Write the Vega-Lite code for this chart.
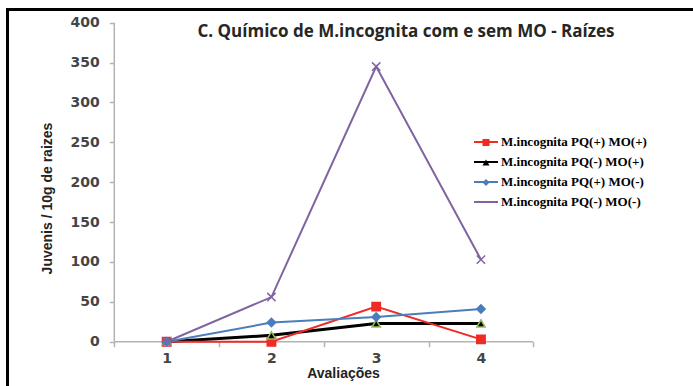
{
  "$schema": "https://vega.github.io/schema/vega-lite/v6.json",
  "width": 686,
  "height": 377,
  "autosize": {"type": "none"},
  "padding": {"left": 7, "top": 9, "right": 0, "bottom": 0},
  "background": "white",
  "title": {
    "text": "C. Químico de M.incognita com e sem MO - Raízes",
    "font": "Open Sans",
    "fontSize": 17,
    "fontWeight": "bold",
    "color": "#262626",
    "anchor": "middle",
    "frame": "group",
    "orient": "top",
    "offset": 0,
    "baseline": "alphabetic",
    "dx": 56,
    "dy": 45
  },
  "config": {"view": {"stroke": null}, "axis": {"grid": false}},
  "data": {
    "values": [
      {"aval": 1, "serie": "M.incognita PQ(+) MO(+)", "juvenis": 0},
      {"aval": 2, "serie": "M.incognita PQ(+) MO(+)", "juvenis": 0},
      {"aval": 3, "serie": "M.incognita PQ(+) MO(+)", "juvenis": 44},
      {"aval": 4, "serie": "M.incognita PQ(+) MO(+)", "juvenis": 3},
      {"aval": 1, "serie": "M.incognita PQ(-) MO(+)", "juvenis": 0},
      {"aval": 2, "serie": "M.incognita PQ(-) MO(+)", "juvenis": 8},
      {"aval": 3, "serie": "M.incognita PQ(-) MO(+)", "juvenis": 23},
      {"aval": 4, "serie": "M.incognita PQ(-) MO(+)", "juvenis": 23},
      {"aval": 1, "serie": "M.incognita PQ(+) MO(-)", "juvenis": 0},
      {"aval": 2, "serie": "M.incognita PQ(+) MO(-)", "juvenis": 24},
      {"aval": 3, "serie": "M.incognita PQ(+) MO(-)", "juvenis": 31},
      {"aval": 4, "serie": "M.incognita PQ(+) MO(-)", "juvenis": 41},
      {"aval": 1, "serie": "M.incognita PQ(-) MO(-)", "juvenis": 0},
      {"aval": 2, "serie": "M.incognita PQ(-) MO(-)", "juvenis": 56},
      {"aval": 3, "serie": "M.incognita PQ(-) MO(-)", "juvenis": 345},
      {"aval": 4, "serie": "M.incognita PQ(-) MO(-)", "juvenis": 103}
    ]
  },
  "resolve": {"axis": {"x": "independent", "y": "independent"}, "legend": {"color": "independent", "shape": "independent"}},
  "layer": [
    {
      "data": {"values": [{}]},
      "mark": {"type": "rule", "color": "#b3b3b3", "strokeWidth": 1.5},
      "encoding": {
        "x": {
          "datum": 0.5, "type": "quantitative",
          "scale": {"domain": [-0.524, 6.024], "nice": false, "zero": false},
          "axis": {"orient": "top", "offset": 0, "domain": true, "domainColor": "#000000", "domainWidth": 3, "domainCap": "square", "ticks": false, "labels": false, "title": null, "grid": false}
        },
        "x2": {"datum": 4.5},
        "y": {
          "datum": 0, "type": "quantitative",
          "scale": {"domain": [-55.5, 417.2], "nice": false, "zero": false},
          "axis": {"orient": "left", "offset": 0, "domain": true, "domainColor": "#000000", "domainWidth": 3, "domainCap": "square", "ticks": false, "labels": false, "title": null, "grid": false}
        }
      }
    },
    {
      "data": {"values": [{}]},
      "mark": {"type": "rule", "color": "#b3b3b3", "strokeWidth": 1.5},
      "encoding": {
        "x": {"datum": 0.5, "type": "quantitative", "scale": {"domain": [-0.524, 6.024], "nice": false, "zero": false}, "axis": null},
        "y": {"datum": 0, "type": "quantitative", "scale": {"domain": [-55.5, 417.2], "nice": false, "zero": false}, "axis": null},
        "y2": {"datum": 400}
      }
    },
    {
      "transform": [{"filter": "datum.serie === 'M.incognita PQ(-) MO(+)'"}],
      "mark": {"type": "line", "strokeWidth": 3},
      "encoding": {
        "x": {
          "field": "aval", "type": "quantitative",
          "scale": {"domain": [-0.524, 6.024], "nice": false, "zero": false},
          "axis": {
            "orient": "bottom", "offset": -44.3, "domain": false,
            "values": [0.5, 1, 1.5, 2, 2.5, 3, 3.5, 4, 4.5],
            "labelExpr": "datum.value % 1 === 0 ? format(datum.value, 'd') : ''",
            "labelOverlap": false, "labelFlush": false,
            "tickSize": 5, "tickColor": "#b3b3b3", "tickWidth": 1.5,
            "tickOpacity": {"condition": {"test": "datum.value % 1 === 0", "value": 0}, "value": 1},
            "labelFont": "DejaVu Sans", "labelFontSize": 14, "labelFontWeight": "bold", "labelColor": "#454545", "labelPadding": 5,
            "title": "Avaliações", "titleFont": "Liberation Sans", "titleFontSize": 14, "titleFontWeight": "bold", "titleColor": "#222222",
            "titleX": 336, "titleY": 25, "titleBaseline": "top", "titleAlign": "center", "titleAnchor": null
          }
        },
        "y": {
          "field": "juvenis", "type": "quantitative",
          "scale": {"domain": [-55.5, 417.2], "nice": false, "zero": false},
          "axis": {
            "orient": "left", "offset": -107.3, "domain": false,
            "values": [0, 50, 100, 150, 200, 250, 300, 350, 400],
            "labelOverlap": false, "labelFlush": false,
            "tickSize": 5, "tickColor": "#b3b3b3", "tickWidth": 1.5,
            "labelFont": "DejaVu Sans", "labelFontSize": 14, "labelFontWeight": "bold", "labelColor": "#454545", "labelPadding": 10,
            "title": "Juvenis / 10g de raizes", "titleFont": "Liberation Sans", "titleFontSize": 14, "titleFontWeight": "bold", "titleColor": "#222222",
            "titleX": -60, "titleY": 189, "titleAngle": 270, "titleBaseline": "bottom", "titleAlign": "center", "titleAnchor": null
          }
        },
        "color": {
          "field": "serie", "type": "nominal",
          "scale": {"domain": ["M.incognita PQ(+) MO(+)", "M.incognita PQ(-) MO(+)", "M.incognita PQ(+) MO(-)", "M.incognita PQ(-) MO(-)"], "range": ["#ee2b24", "#000000", "#4a7ebb", "#8064a2"]},
          "legend": {
            "orient": "none", "legendX": 466, "legendY": 120, "title": null, "padding": 0,
            "symbolType": "stroke", "symbolSize": 576, "symbolStrokeWidth": 2,
            "labelFont": "Liberation Serif", "labelFontSize": 13, "labelFontWeight": "bold", "labelColor": "#000000",
            "labelOffset": 2, "rowPadding": 0
          }
        }
      }
    },
    {
      "transform": [{"filter": "datum.serie !== 'M.incognita PQ(-) MO(+)'"}],
      "mark": {"type": "line", "strokeWidth": 2},
      "encoding": {
        "x": {"field": "aval", "type": "quantitative", "scale": {"domain": [-0.524, 6.024], "nice": false, "zero": false}, "axis": null},
        "y": {"field": "juvenis", "type": "quantitative", "scale": {"domain": [-55.5, 417.2], "nice": false, "zero": false}, "axis": null},
        "color": {
          "field": "serie", "type": "nominal",
          "scale": {"domain": ["M.incognita PQ(+) MO(+)", "M.incognita PQ(-) MO(+)", "M.incognita PQ(+) MO(-)", "M.incognita PQ(-) MO(-)"], "range": ["#ee2b24", "#000000", "#4a7ebb", "#8064a2"]},
          "legend": null
        }
      }
    },
    {
      "mark": {
        "type": "point", "filled": true, "size": 70, "strokeWidth": 1.5, "opacity": 1,
        "stroke": {"expr": "datum.serie === 'M.incognita PQ(-) MO(+)' ? '#9bbb59' : scale('color', datum.serie)"}
      },
      "encoding": {
        "x": {"field": "aval", "type": "quantitative", "scale": {"domain": [-0.524, 6.024], "nice": false, "zero": false}, "axis": null},
        "y": {"field": "juvenis", "type": "quantitative", "scale": {"domain": [-55.5, 417.2], "nice": false, "zero": false}, "axis": null},
        "shape": {
          "field": "serie", "type": "nominal",
          "scale": {"domain": ["M.incognita PQ(+) MO(+)", "M.incognita PQ(-) MO(+)", "M.incognita PQ(+) MO(-)", "M.incognita PQ(-) MO(-)"], "range": ["square", "triangle-up", "diamond", "M-1,-1L1,1M-1,1L1,-1"]}
        },
        "color": {
          "field": "serie", "type": "nominal",
          "scale": {"domain": ["M.incognita PQ(+) MO(+)", "M.incognita PQ(-) MO(+)", "M.incognita PQ(+) MO(-)", "M.incognita PQ(-) MO(-)"], "range": ["#ee2b24", "#000000", "#4a7ebb", "#8064a2"]},
          "legend": {
            "orient": "none", "legendX": 472.5, "legendY": 127, "title": null, "padding": 0,
            "symbolSize": 50, "symbolStrokeWidth": 1.5,
            "labelFont": "Liberation Serif", "labelFontSize": 13, "labelFontWeight": "bold", "labelColor": "#000000", "labelOpacity": 0,
            "labelOffset": 8, "rowPadding": 6
          }
        }
      }
    }
  ]
}
